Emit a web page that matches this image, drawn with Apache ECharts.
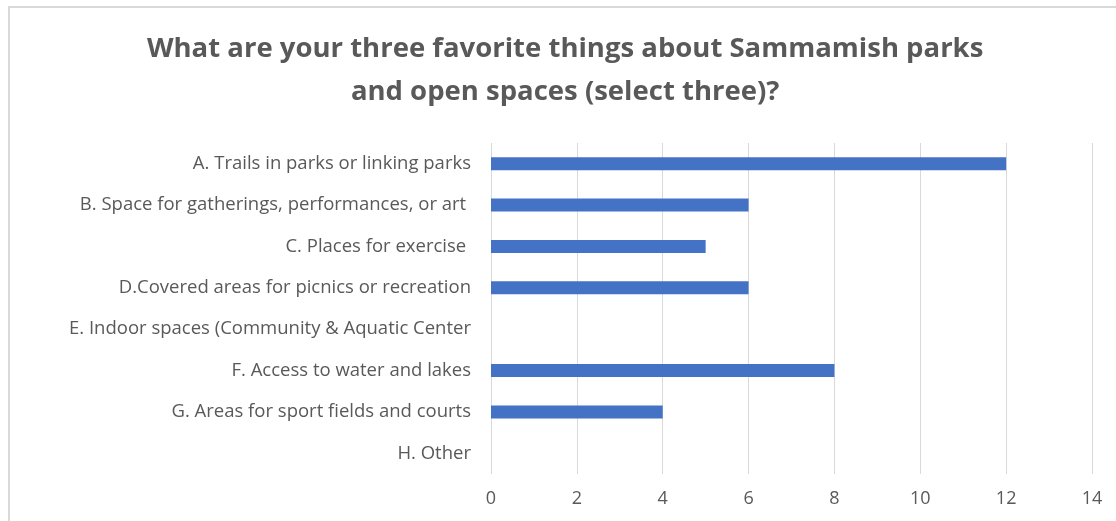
<!DOCTYPE html>
<html>
<head>
	<meta charset="utf-8" />
	<title>Sammamish parks</title>
	<script src="https://cdn.jsdelivr.net/npm/echarts@6/dist/echarts.min.js"></script>
	<style>
		html, body { margin: 0; padding: 0; background: #fff; }
		#frame {
			position: absolute; left: 8px; top: 6px; width: 1200px; height: 600px;
			border-top: 2px solid #d9d9d9; border-left: 2px solid #d9d9d9;
		}
		#chartmain { position: absolute; left: 0; top: 0; width: 1116px; height: 521px; }
	</style>
</head>
<body>
	<div id="frame"></div>
	<div id="chartmain"></div>
<script type="text/javascript">
	// categories, top to bottom
	var categories = [
		'A. Trails in parks or linking parks',
		'B. Space for gatherings, performances, or art ',
		'C. Places for exercise ',
		'D.Covered areas for picnics or recreation',
		'E. Indoor spaces (Community & Aquatic Center',
		'F. Access to water and lakes',
		'G. Areas for sport fields and courts',
		'H. Other'
	];
	var counts = [12, 6, 5, 6, 0, 8, 4, 0];
	var titleLines = ['What are your three favorite things about Sammamish parks', 'and open spaces (select three)?'];

	var myChart = echarts.init(document.getElementById('chartmain'));
	var option = {
		animation: false,
		title: {
			// two leading spaces nudge the centred block a little right, like the original
			text: titleLines.map(function (s) { return '  ' + s; }).join('\n'),
			left: 'center',
			top: 23,
			textStyle: {
				fontFamily: 'Open Sans',
				fontWeight: 'bold',
				fontSize: 27.5,
				lineHeight: 43,
				color: '#595959'
			}
		},
		grid: {
			left: 491,
			right: 24,
			top: 143,
			bottom: 47
		},
		xAxis: {
			type: 'value',
			min: 0,
			max: 14,
			interval: 2,
			axisLine: { show: false },
			axisTick: { show: false },
			splitLine: { show: true, lineStyle: { color: '#d9d9d9', width: 1 } },
			axisLabel: {
				margin: 16,
				fontFamily: 'Open Sans',
				fontSize: 18,
				color: '#595959'
			}
		},
		yAxis: {
			type: 'category',
			inverse: true,
			data: categories,
			axisLine: { show: false },
			axisTick: { show: false },
			axisLabel: {
				margin: 20,
				fontFamily: 'Open Sans',
				fontSize: 18.5,
				color: '#595959'
			}
		},
		series: [{
			type: 'bar',
			data: counts,
			barWidth: 13,
			itemStyle: { color: '#4472C4' }
		}]
	};
	myChart.setOption(option);
</script>
</body>
</html>
